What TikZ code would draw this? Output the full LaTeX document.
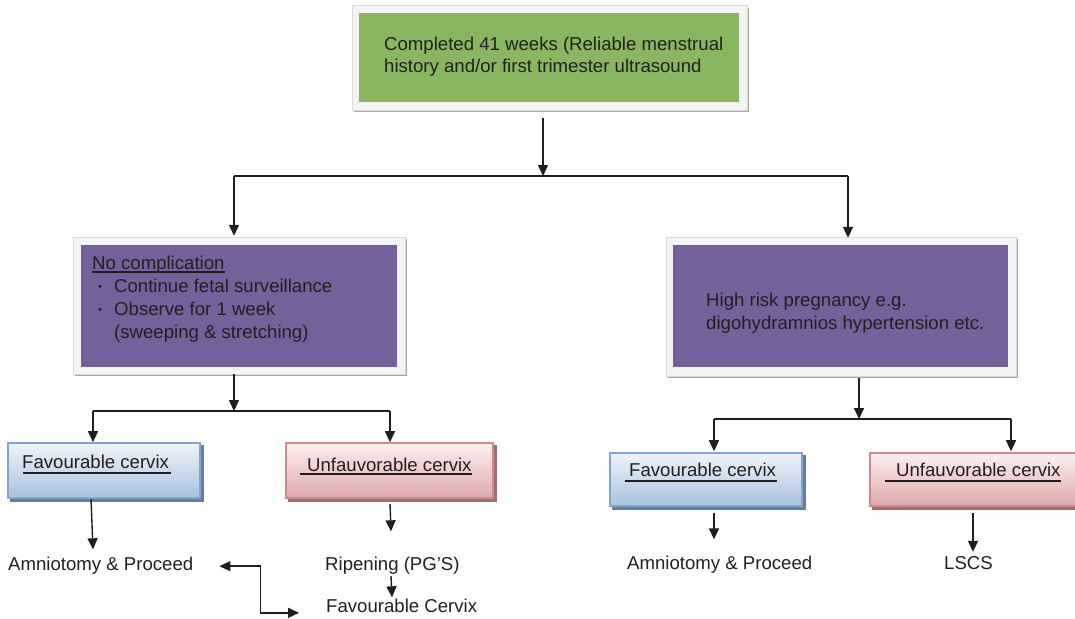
\documentclass[tikz,border=0pt]{standalone}
\usepackage{fontspec}
\setmainfont{Liberation Sans}
\usetikzlibrary{arrows.meta,calc,backgrounds}
\definecolor{greenf}{HTML}{8AB660}
\definecolor{purpf}{HTML}{74609A}
\definecolor{framef}{HTML}{F3F3F4}
\definecolor{framed}{HTML}{DADADA}
\definecolor{gshadow}{HTML}{A3AD96}
\definecolor{pshadow}{HTML}{A99FB8}
\definecolor{bluetop}{HTML}{EEF3F9}
\definecolor{bluebot}{HTML}{A9C3DF}
\definecolor{blued}{HTML}{7EA6D0}
\definecolor{bshadow}{HTML}{66809C}
\definecolor{redtop}{HTML}{FCF0F0}
\definecolor{redbot}{HTML}{DFA8A8}
\definecolor{redd}{HTML}{D08A8B}
\definecolor{rshadow}{HTML}{A07070}
\definecolor{txtc}{HTML}{231F20}
\definecolor{linec}{HTML}{1E1E1E}
\tikzset{
  txt/.style={inner sep=0pt, anchor=base west, font=\fontsize{18.6}{22}\selectfont, text=txtc},
  bul/.style={inner sep=0pt, anchor=base west, font=\fontsize{11}{12}\selectfont, text=txtc},
  arr/.style={line width=1.4pt, draw=linec, -{Triangle[length=11pt,width=10pt]}},
  arrboth/.style={line width=1.4pt, draw=linec, {Triangle[length=11pt,width=10pt]}-{Triangle[length=11pt,width=10pt]}},
  ln/.style={line width=1.4pt, draw=linec},
  uline/.style={line width=1.2pt, draw=linec},
  greenbox/.style={inner sep=0pt, fill=greenf},
  purpbox/.style={inner sep=0pt, fill=purpf},
  bluebox/.style={inner sep=0pt, draw=blued, line width=1.6pt, top color=bluetop, bottom color=bluebot},
  redbox/.style={inner sep=0pt, draw=redd, line width=1.6pt, top color=redtop, bottom color=redbot},
  frame/.style={fill=framef, draw=framed, line width=0.6pt},
}
\begin{document}
\begin{tikzpicture}[x=1pt,y=-1pt]
\useasboundingbox (0,0) rectangle (1075,618);

% main boxes
\node[greenbox, minimum width=380pt, minimum height=89pt] (top) at (549,57.5) {};
\node[purpbox, minimum width=316pt, minimum height=122pt] (nc) at (239,306) {};
\node[purpbox, minimum width=335pt, minimum height=122pt] (hr) at (840.5,306) {};
\node[bluebox, minimum width=192pt, minimum height=55pt] (fav1) at (104,470.5) {};
\node[redbox, minimum width=207pt, minimum height=55pt] (unf1) at (389.5,470.5) {};
\node[bluebox, minimum width=192pt, minimum height=53pt] (fav2) at (706,479.5) {};
\node[redbox, minimum width=212pt, minimum height=53pt] (unf2) at (976,479.5) {};

\begin{scope}[on background layer]
  \fill[white] (0,0) rectangle (1075,618);
  \fill[gshadow] ($(top.south west)+(-5,10)$) rectangle ($(top.north east)+(10,-5)$);
  \draw[frame] ($(top.south west)+(-7,8)$) rectangle ($(top.north east)+(8,-7)$);
  \fill[pshadow] ($(nc.south west)+(-6,9)$) rectangle ($(nc.north east)+(10,-6)$);
  \draw[frame] ($(nc.south west)+(-8,7)$) rectangle ($(nc.north east)+(8,-8)$);
  \fill[pshadow] ($(hr.south west)+(-5,11)$) rectangle ($(hr.north east)+(10,-6)$);
  \draw[frame] ($(hr.south west)+(-7,9)$) rectangle ($(hr.north east)+(8,-8)$);
  \fill[bshadow] ($(fav1.south west)+(3,3)$) rectangle ($(fav1.north east)+(3,3)$);
  \fill[rshadow] ($(unf1.south west)+(3,3)$) rectangle ($(unf1.north east)+(3,3)$);
  \fill[bshadow] ($(fav2.south west)+(3,3)$) rectangle ($(fav2.north east)+(3,3)$);
  \fill[rshadow] ($(unf2.south west)+(3,3)$) rectangle ($(unf2.north east)+(3,3)$);
\end{scope}

% texts
\node[txt] (t1) at (384,51) {Completed 41 weeks (Reliable menstrual};
\node[txt] (t2) at (384,73) {history and/or first trimester ultrasound};
\node[txt] (n0) at (92,269) {No complication};
\node[bul] (b1) at (98,290) {•};
\node[txt] (n1) at (114,292) {Continue fetal surveillance};
\node[bul] (b2) at (98,313) {•};
\node[txt] (n2) at (114,315) {Observe for 1 week};
\node[txt] (n3) at (114,338) {(sweeping \& stretching)};
\node[txt] (h1) at (706,306) {High risk pregnancy e.g.};
\node[txt] (h2) at (706,329) {digohydramnios hypertension etc.};
\node[txt] (f1t) at (22,468) {Favourable cervix};
\node[txt] (u1t) at (307,471) {Unfauvorable cervix};
\node[txt] (f2t) at (629,476) {Favourable cervix};
\node[txt] (u2t) at (896,476) {Unfauvorable cervix};
\node[txt] (am1) at (8,570) {Amniotomy \& Proceed};
\node[txt] (rip) at (325,570) {Ripening (PG’S)};
\node[txt] (fc) at (326,612) {Favourable Cervix};
\node[txt] (am2) at (627,569) {Amniotomy \& Proceed};
\node[txt] (lscs) at (944,569) {LSCS};

% underlines
\draw[uline] ($(n0.base west)+(0,3)$) -- ($(n0.base east)+(0,3)$);
\draw[uline] ($(f1t.base west)+(1,5)$) -- ($(f1t.base east)+(2,5)$);
\draw[uline] ($(u1t.base west)+(-7,3)$) -- ($(u1t.base east)+(0,3)$);
\draw[uline] ($(f2t.base west)+(-4,5)$) -- ($(f2t.base east)+(1,5)$);
\draw[uline] ($(u2t.base west)+(-11,5)$) -- ($(u2t.base east)+(0,5)$);

% connectors
\coordinate (j0) at (543,176);
\coordinate (jl) at (234,176);
\coordinate (jr) at (848,176);
\draw[arr] ($(top.south)+(-6,16)$) -- (j0);
\draw[ln] (jl) -- (jr);
\draw[arr] (jl) -- ($(jl |- nc.north)+(0,-9)$);
\draw[arr] (jr) -- ($(jr |- hr.north)+(0,-7)$);

\coordinate (k0) at (234,411);
\coordinate (kl) at (93,411);
\coordinate (kr) at (390,411);
\draw[arr] ($(k0 |- nc.south)+(0,7)$) -- (k0);
\draw[ln] (kl) -- (kr);
\draw[arr] (kl) -- (kl |- fav1.north);
\draw[arr] (kr) -- (kr |- unf1.north);

\coordinate (m0) at (859,419);
\coordinate (ml) at (714,419);
\coordinate (mr) at (1011,419);
\draw[arr] ($(m0 |- hr.south)+(0,11)$) -- (m0);
\draw[ln] (ml) -- (mr);
\draw[arr] (ml) -- ($(ml |- fav2.north)+(0,-1)$);
\draw[arr] (mr) -- ($(mr |- unf2.north)+(0,-1)$);

\draw[arr] ($(fav1.south)+(-13,0)$) -- ($(am1.north west)+(85,-7)$);
\draw[arr] ($(unf1.south)+(0.5,5)$) -- ($(rip.north west)+(66,-25)$);
\draw[arr] ($(rip.south west)+(66,2)$) -- ($(fc.north west)+(66,-1)$);
\draw[arrboth] ($(am1.east)+(26,1)$) -- ++(41,0) |- ($(fc.west)+(-27,7.5)$);
\draw[arr] ($(fav2.south)+(8,6)$) -- ($(am2.north west)+(87,-16)$);
\draw[arr] ($(unf2.south)+(-3,6)$) -- ($(lscs.north west)+(29,-4)$);
\end{tikzpicture}
\end{document}
